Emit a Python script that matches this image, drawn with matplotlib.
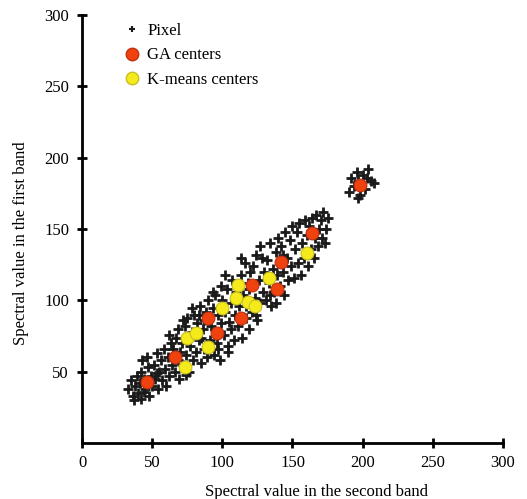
import matplotlib
matplotlib.use("Agg")
import matplotlib.pyplot as plt
from matplotlib.lines import Line2D
import numpy as np

plt.rcParams['font.family'] = ['Liberation Serif', 'DejaVu Serif']

# pixel spectral values (second band, first band)
pixel_pts = [
    (33, 38), (35, 44), (36, 33), (38, 40), (39, 47), (40, 35), (37, 30), (42, 31), (44, 36),
    (41, 42), (42, 50), (43, 58), (44, 45), (45, 38), (47, 53), (48, 33), (49, 47), (46, 60), (50, 40),
    (51, 55), (52, 45), (53, 63), (54, 38), (55, 50), (56, 58), (57, 44), (58, 66), (59, 52), (60, 40), (53, 49),
    (61, 60), (62, 47), (63, 70), (64, 55), (65, 66), (66, 50), (67, 74), (68, 58), (69, 45), (70, 64), (62, 76), (68, 80),
    (71, 70), (72, 55), (73, 82), (74, 62), (75, 88), (76, 50), (77, 68), (78, 78), (79, 58), (80, 90), (72, 86), (78, 95), (74, 48),
    (81, 64), (82, 84), (83, 72), (84, 96), (85, 56), (86, 80), (87, 66), (88, 92), (89, 60), (90, 100), (83, 90), (87, 86), (85, 74),
    (91, 72), (92, 82), (93, 95), (94, 62), (95, 104), (96, 70), (97, 90), (98, 58), (99, 84), (100, 100), (93, 106), (97, 66), (99, 110),
    (101, 76), (102, 92), (103, 108), (104, 68), (105, 85), (106, 98), (107, 114), (108, 72), (109, 90), (110, 106), (102, 118), (106, 80), (104, 64),
    (111, 82), (112, 96), (113, 118), (114, 74), (115, 104), (116, 126), (117, 88), (118, 112), (119, 80), (120, 120), (113, 130), (117, 96), (119, 108),
    (121, 92), (122, 124), (123, 102), (124, 132), (125, 86), (126, 114), (127, 98), (128, 130), (129, 106), (130, 120), (124, 90), (127, 138),
    (131, 100), (132, 128), (133, 112), (134, 140), (135, 96), (136, 122), (137, 106), (138, 134), (139, 118), (140, 144), (134, 104), (138, 98),
    (141, 110), (142, 138), (143, 120), (144, 104), (145, 148), (146, 130), (147, 114), (148, 142), (149, 124), (150, 152), (143, 132),
    (151, 116), (152, 136), (153, 148), (154, 126), (155, 154), (156, 118), (157, 140), (158, 130), (159, 156), (160, 146),
    (161, 124), (162, 152), (163, 136), (164, 158), (165, 130), (166, 144), (167, 160), (168, 138), (169, 150), (170, 156),
    (171, 144), (172, 162), (174, 150), (175, 158), (173, 140),
    (190, 176), (192, 186), (194, 180), (196, 190), (198, 174), (200, 188), (202, 178), (204, 192), (206, 184), (208, 182),
    (197, 172), (197, 184), (203, 186),
]

ga_x = [46, 66, 90, 96, 113, 121, 139, 142, 164, 198]
ga_y = [43, 60, 88, 77, 88, 111, 108, 127, 147, 181]

km_x = [73, 75, 81, 90, 100, 110, 111, 118, 123, 133, 160]
km_y = [53, 74, 77, 67, 95, 102, 111, 99, 96, 116, 133]

ticks = [0, 50, 100, 150, 200, 250, 300]

px = np.array([p[0] for p in pixel_pts])
py = np.array([p[1] for p in pixel_pts])

fig = plt.figure(figsize=(5.27, 4.99), dpi=100)
ax = fig.add_axes([0.156, 0.112, 0.798, 0.858])

ax.plot(px, py, '+', color='#1a1a1a', ms=7, mew=2.0, zorder=2)
ax.scatter(ga_x, ga_y, s=85, color='#f0420e', edgecolors='#c03010', linewidths=0.8, zorder=3)
ax.scatter(km_x, km_y, s=85, color='#f4ea1c', edgecolors='#c8c020', linewidths=0.8, zorder=3)

ax.set_xlim(0, 300)
ax.set_ylim(0, 300)
ax.set_xticks(ticks)
ax.set_yticks(ticks[1:])

for s in ['top', 'right']:
    ax.spines[s].set_visible(False)
for s in ['left', 'bottom']:
    ax.spines[s].set_linewidth(2)
ax.tick_params(direction='inout', length=7, width=2, labelsize=12)
ax.tick_params(axis='x', pad=5)
ax.tick_params(axis='y', pad=6)

ax.set_xlabel('Spectral value in the second band', fontsize=12)
ax.set_ylabel('Spectral value in the first band', fontsize=12)
ax.xaxis.set_label_coords(0.556, -0.095)
ax.yaxis.set_label_coords(-0.126, 0.467)

handles = [
    Line2D([], [], ls='none', marker='+', color='#1a1a1a', ms=5, mew=1.5),
    Line2D([], [], ls='none', marker='o', color='#f0420e', mec='#c03010', ms=9),
    Line2D([], [], ls='none', marker='o', color='#f4ea1c', mec='#c8c020', ms=9),
]
ax.legend(handles, ['Pixel', 'GA centers', 'K-means centers'], loc='upper left',
          bbox_to_anchor=(0.063, 1.016), frameon=False, fontsize=12,
          handlelength=1.0, handletextpad=0.4, labelspacing=0.5)

fig.savefig('out.png', dpi=100)
